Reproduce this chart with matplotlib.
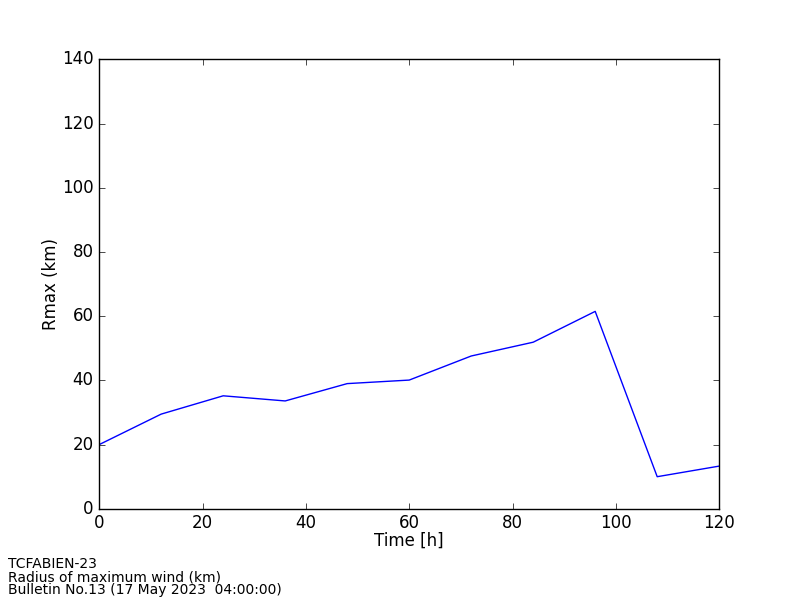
import matplotlib
matplotlib.use("Agg")
import matplotlib.pyplot as plt

time_h = [0, 12, 24, 36, 48, 60, 72, 84, 96, 108, 120]
rmax_km = [20.0, 29.5, 35.2, 33.6, 39.0, 40.1, 47.6, 51.9, 61.5, 10.0, 13.3]

plt.style.use('classic')
plt.rcParams['font.family'] = ['DejaVu Sans']

fig = plt.figure(figsize=(8, 6), dpi=100, facecolor='white')
ax = fig.add_axes([0.124, 0.152, 0.775, 0.749])
ax.plot(time_h, rmax_km, color='b', linewidth=1)
ax.set_xlim(0, 120)
ax.set_ylim(0, 140)
ax.set_xlabel('Time [h]', labelpad=-0.8)
ax.set_ylabel('Rmax (km)', labelpad=1.5)
fig.text(0.01, 0.005, 'TCFABIEN-23\nRadius of maximum wind (km)\nBulletin No.13 (17 May 2023  04:00:00)',
         fontsize=10, ha='left', va='bottom', linespacing=0.9)
fig.savefig('out.png', dpi=100, facecolor='white')
